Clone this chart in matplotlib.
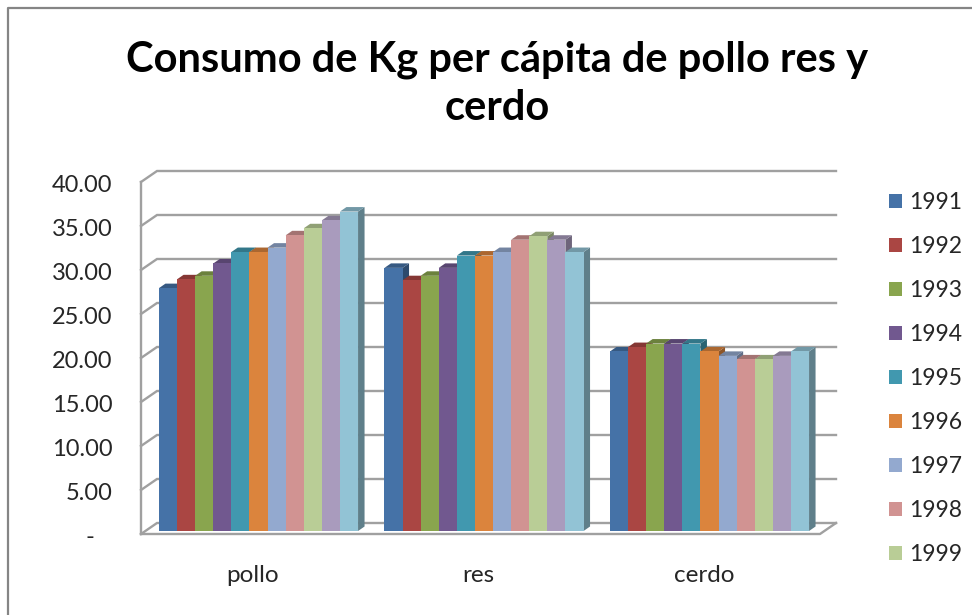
import matplotlib
matplotlib.use("Agg")
import matplotlib.pyplot as plt
from matplotlib.lines import Line2D
from matplotlib.colors import to_rgb
from matplotlib.transforms import ScaledTranslation
import numpy as np

plt.rcParams['font.family'] = ['Lato', 'DejaVu Sans']

categories = ["pollo", "res", "cerdo"]
years = ["1991", "1992", "1993", "1994", "1995", "1996", "1997", "1998", "1999", "2000", "2001"]
pollo = [27.6, 28.6, 29.0, 30.4, 31.7, 31.7, 32.2, 33.6, 34.4, 35.3, 36.3]
res = [29.9, 28.5, 29.0, 29.9, 31.3, 31.3, 31.7, 33.1, 33.5, 33.1, 31.7]
cerdo = [20.4, 20.9, 21.3, 21.3, 21.3, 20.4, 19.9, 19.5, 19.5, 19.9, 20.4]
colors = ["#4572A7", "#AA4643", "#89A54E", "#71588F", "#4198AF", "#DB843D",
          "#93A9CF", "#D19392", "#B9CD96", "#A99BBD", "#92C3D5"]
yticks = [0, 5, 10, 15, 20, 25, 30, 35, 40]
yticklabels = ["-   ", "5.00", "10.00", "15.00", "20.00", "25.00", "30.00", "35.00", "40.00"]
visible_legend = 9

W, H = 972, 615
fig = plt.figure(figsize=(W / 100, H / 100), dpi=100, facecolor="white")

# axes rectangle in pixels
L, R, B, T = 141, 836, 534, 171
ax = fig.add_axes([L / W, 1 - B / H, (R - L) / W, (B - T) / H])
PX_X = 225.5   # pixels per category
PX_Y = 8.8     # pixels per value unit
CX0 = 258.5    # pixel centre of the first group
BASE = 531     # pixel of the bars' zero
ax.set_xlim((L - CX0) / PX_X, (R - CX0) / PX_X)
ax.set_ylim((BASE - B) / PX_Y, (BASE - T) / PX_Y)
for s in ax.spines.values():
    s.set_visible(False)
ax.patch.set_alpha(0)

front_off = (BASE - 534) / PX_Y
back_off = (BASE - 523) / PX_Y
wall_dx = 16 / PX_X
x_left, x_right = ax.get_xlim()
front_right = x_right - wall_dx
GRID = "#A0A0A0"
glw = 1.7
for v in yticks:
    ax.plot([x_left, x_left + wall_dx, x_right], [v + front_off, v + back_off, v + back_off],
            color=GRID, lw=glw, zorder=1, solid_joinstyle="miter", clip_on=False)
ax.plot([x_left, x_left], [yticks[0] + front_off, yticks[-1] + front_off], color=GRID, lw=glw, zorder=2, clip_on=False)
ax.plot([x_left, front_right, x_right], [front_off, front_off, back_off], color=GRID, lw=glw, zorder=2, clip_on=False)

# bars
w = 18.1 / PX_X
dx, dy = 6.5 / PX_X, 4.5 / PX_Y
series = np.array([pollo, res, cerdo])
handles = []
z = 3
for j, yr in enumerate(years):
    col = np.array(to_rgb(colors[j]))
    top_c, side_c = col * 0.78, col * 0.65
    xs = np.arange(len(categories)) + (j - 5) * w
    for i, x in enumerate(xs):
        v = series[i, j]
        xl, xr = x - w / 2, x + w / 2
        ax.fill([xr, xr + dx, xr + dx, xr], [0, dy, v + dy, v], color=side_c, lw=0, zorder=z)
        ax.fill([xl, xr, xr + dx, xl + dx], [v, v, v + dy, v + dy], color=top_c, lw=0, zorder=z)
    bars = ax.bar(xs, series[:, j], width=w, color=colors[j], lw=0, zorder=z + 1, label=yr)
    handles.append(bars)
    z += 2

# axes labels
ax.set_yticks([v + front_off for v in yticks])
ax.set_yticklabels(yticklabels)
ax.set_xticks(np.arange(len(categories)) - 5.5 / PX_X)
ax.set_xticklabels(categories)
ax.tick_params(axis="y", length=0, pad=20.5, labelsize=17, labelcolor="#262626")
ax.tick_params(axis="x", length=0, pad=22, labelsize=17.5, labelcolor="#262626")
shift = ScaledTranslation(0, -2 / 100, fig.dpi_scale_trans)
for lab in ax.get_yticklabels():
    lab.set_transform(lab.get_transform() + shift)

# legend (only the entries that fit in the reference)
fig.legend(handles[:visible_legend], years[:visible_legend], loc="upper left",
           bbox_to_anchor=(889 / W, 1 - 192 / H), frameon=False, fontsize=16.5,
           labelcolor="#262626", handlelength=0.58, handleheight=0.58,
           handletextpad=0.3, labelspacing=1.005, borderpad=0, borderaxespad=0)

# title
fig.text(497 / W, 1 - 84 / H, "Consumo de Kg per cápita de pollo res y\ncerdo",
         ha="center", va="center", fontsize=30, fontweight="bold", color="black", linespacing=1.33)

# chart frame (clipped by the image at right and bottom)
FR = "#858585"
fig.add_artist(Line2D([8 / W, 8 / W, 1], [0, 1 - 8 / H, 1 - 8 / H], color=FR, lw=1.6,
                      transform=fig.transFigure))

fig.savefig("out.png", dpi=100, facecolor="white")
